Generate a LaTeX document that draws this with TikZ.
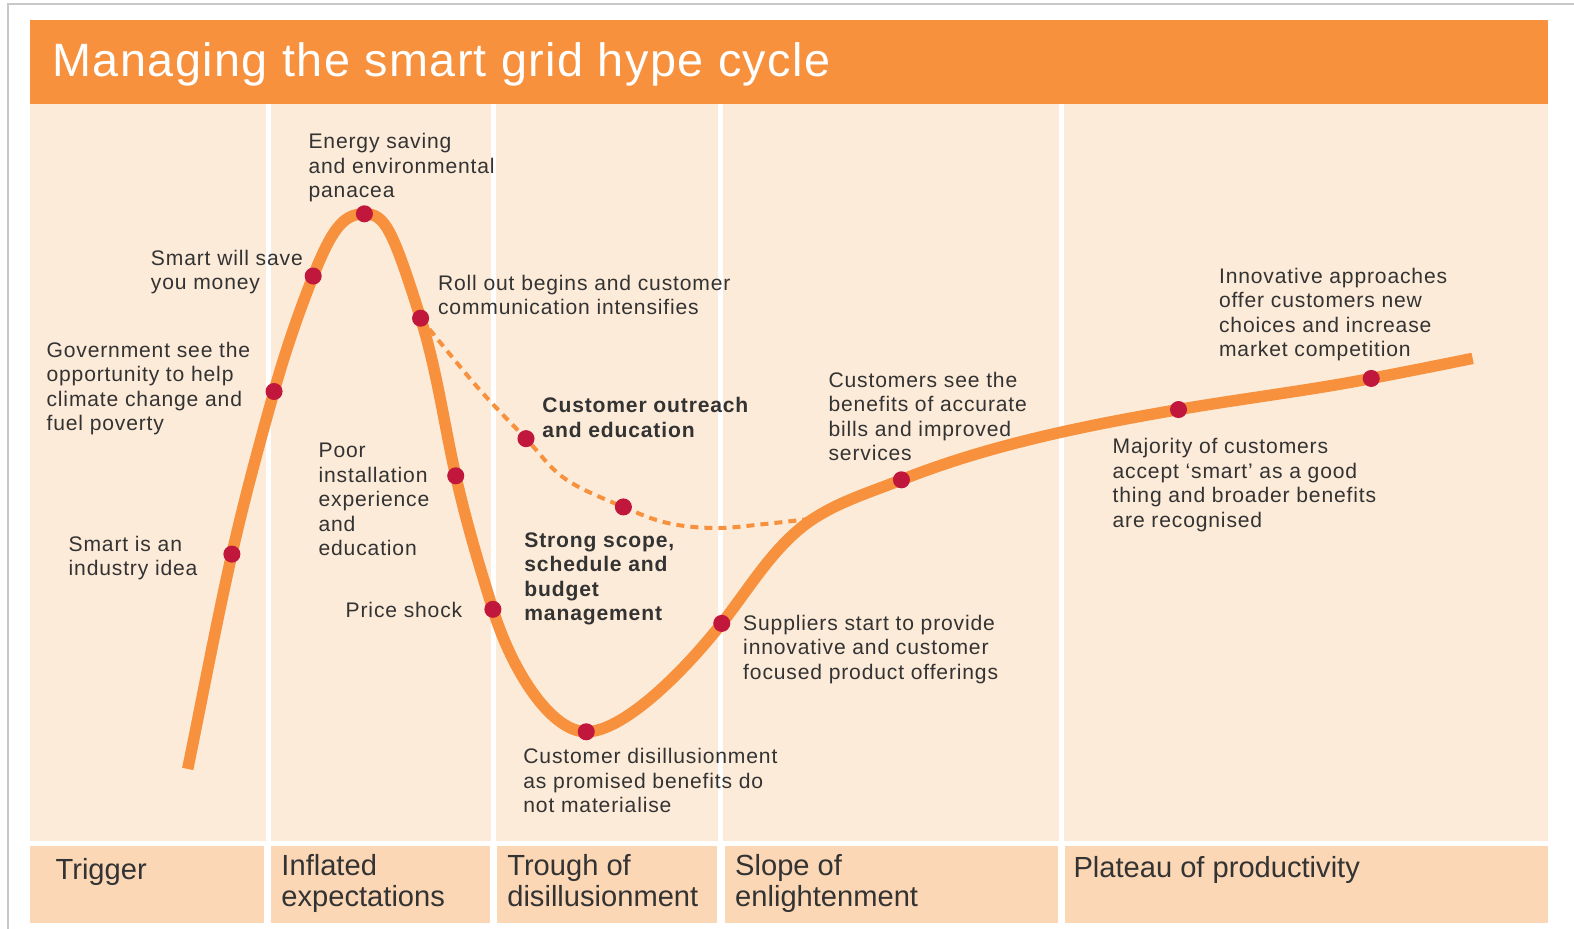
\documentclass[tikz,border=0pt]{standalone}
\usepackage{fontspec}
\setmainfont{Liberation Sans}
\newfontfamily\labfont[LetterSpace=4]{Liberation Sans}
\newfontfamily\ttlfont[LetterSpace=3]{Liberation Sans}
\newcommand\ml[1]{\begin{tabular}[t]{@{}l@{}}#1\end{tabular}}
\definecolor{hcorange}{HTML}{F7913D}
\definecolor{hcpeach}{HTML}{FDEBD9}
\definecolor{hcband}{HTML}{FBD7B5}
\definecolor{hcdot}{HTML}{C1173D}
\definecolor{hctext}{HTML}{333333}
\definecolor{hcframe}{HTML}{C8C8C8}
\tikzset{
  lab/.style={anchor=base west, inner sep=0pt, text=hctext, font=\labfont\fontsize{10.5}{12.2}\selectfont},
  blab/.style={lab, font=\labfont\bfseries\fontsize{10.5}{12.2}\selectfont},
  phase/.style={anchor=base west, inner sep=0pt, text=hctext, font=\fontsize{14.5}{15.5}\selectfont},
  hcdotnode/.style={circle, fill=hcdot, draw=none, inner sep=0pt, minimum size=8.5pt},
  cellbox/.style={fill=hcpeach, draw=none},
  bandbox/.style={fill=hcband, draw=none},
  hypecurve/.style={draw=hcorange, line width=5.7pt},
  hopecurve/.style={draw=hcorange, line width=2pt, dash pattern=on 4pt off 3pt},
}
\begin{document}
\begin{tikzpicture}[x=0.5pt, y=-0.5pt]
\useasboundingbox (0,0) rectangle (1568,925);
% frame
\draw[hcframe, line width=0.6pt] (8,925) -- (8,4) -- (1568,4);
% title
\fill[hcorange] (30,20) rectangle (1542,104);
\node[anchor=base west, inner sep=0pt, text=white, font=\ttlfont\fontsize{23.3}{26}\selectfont] (title) at (52,76) {Managing the smart grid hype cycle};
% upper cells
\fill[cellbox] (30,104) rectangle (265,838);
\fill[cellbox] (270,104) rectangle (489,838);
\fill[cellbox] (494,104) rectangle (715,838);
\fill[cellbox] (720,104) rectangle (1055,838);
\fill[cellbox] (1060,104) rectangle (1542,838);
% bottom band
\fill[bandbox] (30,843) rectangle (263,919);
\fill[bandbox] (270,843) rectangle (488,919);
\fill[bandbox] (495,843) rectangle (714,919);
\fill[bandbox] (722,843) rectangle (1054,919);
\fill[bandbox] (1061,843) rectangle (1542,919);
\node[phase] (p1) at (55,876) {Trigger};
\node[phase] (p2) at (280,872) {\ml{Inflated\\expectations}};
\node[phase] (p3) at (505,872) {\ml{Trough of\\disillusionment}};
\node[phase] (p4) at (732,872) {\ml{Slope of\\enlightenment}};
\node[phase] (p5) at (1069,874) {Plateau of productivity};
% curve points
\coordinate (c0) at (187,766);
\coordinate (d1) at (231,552);
\coordinate (d2) at (273,390);
\coordinate (d3) at (312,275);
\coordinate (d4) at (363,213);
\coordinate (d5) at (419,317);
\coordinate (d6) at (454,474);
\coordinate (d7) at (491,607);
\coordinate (d8) at (584,729);
\coordinate (d9) at (719,621);
\coordinate (c8) at (813,515);
\coordinate (d10) at (898,478);
\coordinate (d11) at (1174,408);
\coordinate (d12) at (1366,377);
\coordinate (c10) at (1467,357);
% dashed alternative
\coordinate (h1) at (475,385);
\coordinate (e1) at (524,437);
\coordinate (h2) at (563,477);
\coordinate (e2) at (621,505);
\coordinate (h3) at (665,521);
\coordinate (h4) at (713,526);
\coordinate (h5) at (762,522);
\coordinate (h6) at (806,517);
\draw[hopecurve] plot[smooth, tension=0.6] coordinates {(d5) (h1) (e1) (h2) (e2) (h3) (h4) (h5) (h6)};
\draw[hypecurve] (c0)
  .. controls (201.6,694.7) and (215,623) .. (d1)
  .. controls (243.3,497.6) and (257.9,443.7) .. (d2)
  .. controls (283.9,351) and (297,312.7) .. (d3)
  .. controls (330.5,228.5) and (342,213) .. (d4)
  .. controls (383,213) and (390.5,226.4) .. (d5)
  .. controls (435.1,368.1) and (442.2,421.7) .. (d6)
  .. controls (464.1,518.9) and (477.2,563.1) .. (d7)
  .. controls (512,673.8) and (551,729) .. (d8)
  .. controls (619,729) and (676.2,675.2) .. (d9)
  .. controls (748.1,584.1) and (773,539.9) .. (c8)
  .. controls (839.3,498.6) and (869.3,489.4) .. (d10)
  .. controls (986.3,442.9) and (1080.5,424.1) .. (d11)
  .. controls (1237.8,397) and (1302.4,389.3) .. (d12)
  .. controls (1399.7,370.5) and (1433.4,363.9) .. (c10);
% dots
\foreach \p in {d1,d2,d3,d4,d5,d6,d7,d8,d9,d10,d11,d12,e1,e2}
  \node[hcdotnode] (n\p) at (\p) {};
% labels
\node[lab] (l1) at (307,148) {\ml{Energy saving\\and environmental\\panacea}};
\node[lab] (l2) at (150,264) {\ml{Smart will save\\you money}};
\node[lab] (l3) at (46,356) {\ml{Government see the\\opportunity to help\\climate change and\\fuel poverty}};
\node[lab] (l4) at (68,549) {\ml{Smart is an\\industry idea}};
\node[lab] (l5) at (317,456) {\ml{Poor\\installation\\experience\\and\\education}};
\node[lab] (l6) at (344,615) {Price shock};
\node[lab] (l7) at (436,289) {\ml{Roll out begins and customer\\communication intensifies}};
\node[blab] (l8) at (540,411) {\ml{Customer outreach\\and education}};
\node[blab] (l9) at (522,545) {\ml{Strong scope,\\schedule and\\budget\\management}};
\node[lab] (l10) at (521,761) {\ml{Customer disillusionment\\as promised benefits do\\not materialise}};
\node[lab] (l11) at (740,628) {\ml{Suppliers start to provide\\innovative and customer\\focused product offerings}};
\node[lab] (l12) at (825,386) {\ml{Customers see the\\benefits of accurate\\bills and improved\\services}};
\node[lab] (l13) at (1108,452) {\ml{Majority of customers\\accept ‘smart’ as a good\\thing and broader benefits\\are recognised}};
\node[lab] (l14) at (1214,282) {\ml{Innovative approaches\\offer customers new\\choices and increase\\market competition}};
\end{tikzpicture}
\end{document}
